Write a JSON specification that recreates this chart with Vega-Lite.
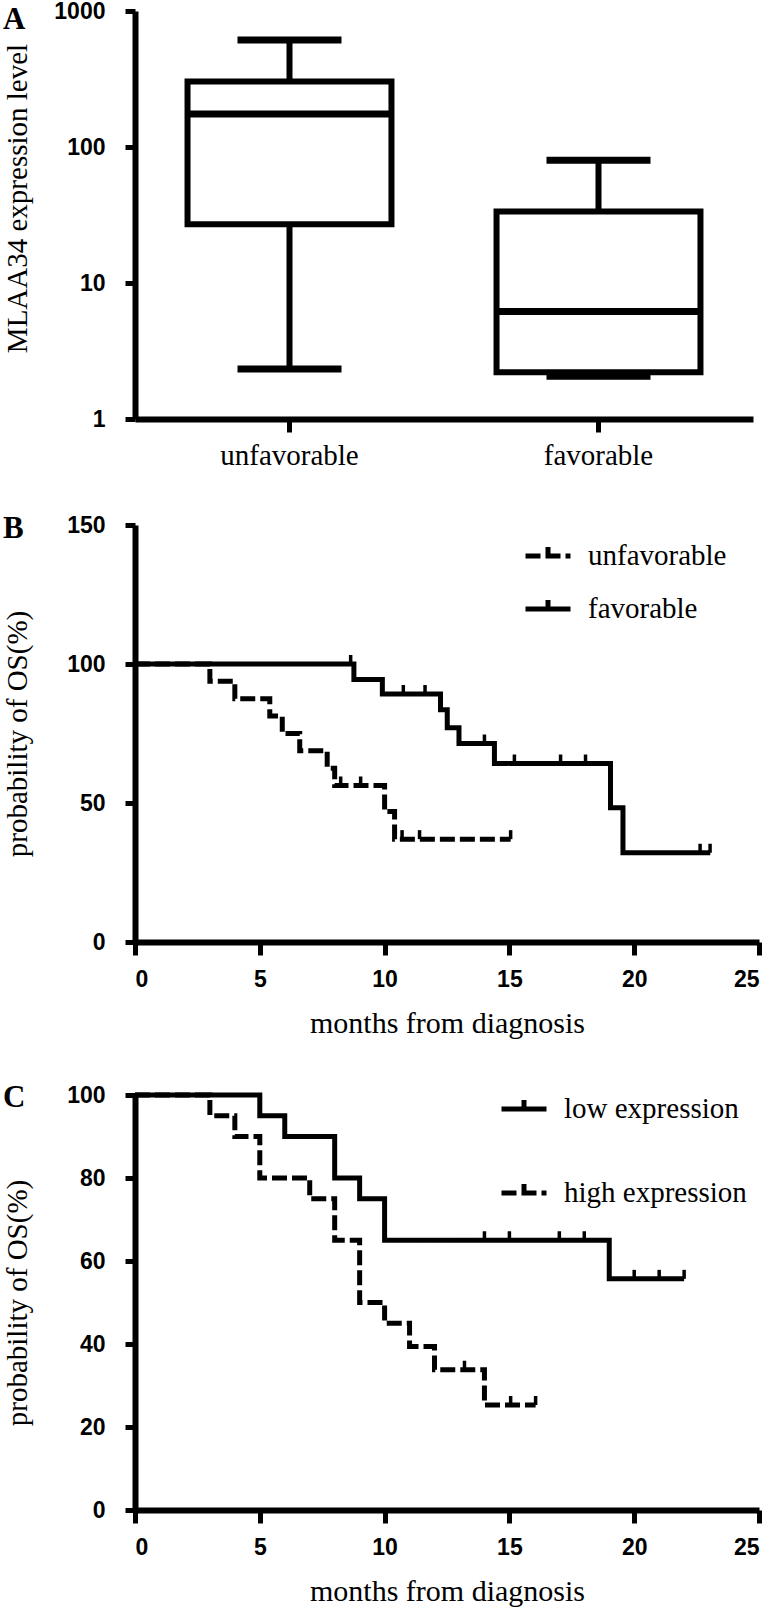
{
  "$schema": "https://vega.github.io/schema/vega-lite/v6.json",
  "background": "white",
  "padding": {"left": 2, "top": 0, "right": 0, "bottom": 0},
  "spacing": 43,
  "resolve": {"scale": {"strokeDash": "independent"}, "legend": {"strokeDash": "independent"}},
  "datasets": {
    "boxes": [
      {"group": "unfavorable", "min": 2.33, "q1": 27.0, "median": 175, "q3": 303, "max": 612},
      {"group": "favorable", "min": 2.06, "q1": 2.21, "median": 6.18, "q3": 33.6, "max": 80}
    ],
    "kmB": [
      {"group": "unfavorable", "month": 0, "surv": 100},
      {"group": "unfavorable", "month": 3.0, "surv": 93.8},
      {"group": "unfavorable", "month": 4.0, "surv": 87.5},
      {"group": "unfavorable", "month": 5.4, "surv": 81.3},
      {"group": "unfavorable", "month": 5.9, "surv": 75.0},
      {"group": "unfavorable", "month": 6.6, "surv": 68.8},
      {"group": "unfavorable", "month": 7.7, "surv": 62.5},
      {"group": "unfavorable", "month": 8.0, "surv": 56.3},
      {"group": "unfavorable", "month": 10.0, "surv": 46.9},
      {"group": "unfavorable", "month": 10.4, "surv": 37.0},
      {"group": "unfavorable", "month": 15.05, "surv": 37.0},
      {"group": "favorable", "month": 0, "surv": 100},
      {"group": "favorable", "month": 8.77, "surv": 94.4},
      {"group": "favorable", "month": 9.91, "surv": 89.2},
      {"group": "favorable", "month": 12.24, "surv": 83.5},
      {"group": "favorable", "month": 12.51, "surv": 77.1},
      {"group": "favorable", "month": 12.98, "surv": 71.4},
      {"group": "favorable", "month": 14.4, "surv": 64.2},
      {"group": "favorable", "month": 19.05, "surv": 48.3},
      {"group": "favorable", "month": 19.55, "surv": 32.1},
      {"group": "favorable", "month": 23.05, "surv": 32.1}
    ],
    "censB": [
      {"group": "unfavorable", "month": 8.24, "surv": 56.3},
      {"group": "unfavorable", "month": 9.04, "surv": 56.3},
      {"group": "unfavorable", "month": 10.7, "surv": 37.0},
      {"group": "unfavorable", "month": 11.4, "surv": 37.0},
      {"group": "unfavorable", "month": 15.05, "surv": 37.0},
      {"group": "favorable", "month": 8.64, "surv": 100},
      {"group": "favorable", "month": 10.75, "surv": 89.2},
      {"group": "favorable", "month": 11.62, "surv": 89.2},
      {"group": "favorable", "month": 14.0, "surv": 71.4},
      {"group": "favorable", "month": 15.2, "surv": 64.2},
      {"group": "favorable", "month": 17.05, "surv": 64.2},
      {"group": "favorable", "month": 18.05, "surv": 64.2},
      {"group": "favorable", "month": 22.64, "surv": 32.1},
      {"group": "favorable", "month": 23.04, "surv": 32.1}
    ],
    "kmC": [
      {"group": "low expression", "month": 0, "surv": 100},
      {"group": "low expression", "month": 5, "surv": 95},
      {"group": "low expression", "month": 6, "surv": 90},
      {"group": "low expression", "month": 8, "surv": 80},
      {"group": "low expression", "month": 9, "surv": 75},
      {"group": "low expression", "month": 10, "surv": 65},
      {"group": "low expression", "month": 19, "surv": 55.7},
      {"group": "low expression", "month": 22, "surv": 55.7},
      {"group": "high expression", "month": 0, "surv": 100},
      {"group": "high expression", "month": 3, "surv": 95},
      {"group": "high expression", "month": 4, "surv": 90},
      {"group": "high expression", "month": 5, "surv": 80},
      {"group": "high expression", "month": 7, "surv": 75},
      {"group": "high expression", "month": 8, "surv": 65},
      {"group": "high expression", "month": 9, "surv": 50},
      {"group": "high expression", "month": 10, "surv": 45},
      {"group": "high expression", "month": 11, "surv": 39.4},
      {"group": "high expression", "month": 12, "surv": 33.8},
      {"group": "high expression", "month": 14, "surv": 25.3},
      {"group": "high expression", "month": 16.05, "surv": 25.3}
    ],
    "censC": [
      {"group": "low expression", "month": 14, "surv": 65},
      {"group": "low expression", "month": 15, "surv": 65},
      {"group": "low expression", "month": 17, "surv": 65},
      {"group": "low expression", "month": 18, "surv": 65},
      {"group": "low expression", "month": 20, "surv": 55.7},
      {"group": "low expression", "month": 21, "surv": 55.7},
      {"group": "low expression", "month": 22, "surv": 55.7},
      {"group": "high expression", "month": 13.2, "surv": 33.8},
      {"group": "high expression", "month": 15.05, "surv": 25.3},
      {"group": "high expression", "month": 16.05, "surv": 25.3}
    ]
  },
  "vconcat": [
    {
      "width": 618,
      "height": 408,
      "title": {"text": "A", "anchor": "start", "frame": "bounds", "orient": "top", "baseline": "top", "offset": -36, "font": "Liberation Serif", "fontSize": 31, "fontWeight": "bold", "color": "black"},
      "data": {"name": "boxes"},
      "encoding": {
        "x": {"field": "group", "type": "nominal", "title": null,
              "scale": {"domain": ["unfavorable", "favorable"], "paddingInner": 0, "paddingOuter": 0},
              "axis": {"labelAngle": 0, "bandPosition": 0.5, "tickSize": 13, "labelPadding": 9,
                       "labelFont": "Liberation Serif", "labelFontWeight": "normal", "labelFontSize": 29}}
      },
      "layer": [
        {
          "mark": {"type": "rule", "strokeWidth": 6, "color": "black"},
          "encoding": {
            "y": {"field": "min", "type": "quantitative", "title": "MLAA34 expression level",
                  "scale": {"type": "log", "domain": [1, 1000], "nice": false},
                  "axis": {"values": [1, 10, 100, 1000], "format": "d", "titleY": 187}},
            "y2": {"field": "max"}
          }
        },
        {
          "mark": {"type": "bar", "fill": "white", "stroke": "black", "strokeWidth": 6, "opacity": 1, "width": {"band": 0.66}},
          "encoding": {
            "y": {"field": "q1", "type": "quantitative", "title": "MLAA34 expression level", "scale": {"type": "log", "domain": [1, 1000], "nice": false}},
            "y2": {"field": "q3"}
          }
        },
        {
          "mark": {"type": "tick", "orient": "horizontal", "size": 204, "thickness": 7, "color": "black", "opacity": 1},
          "encoding": {"y": {"field": "median", "type": "quantitative", "title": "MLAA34 expression level", "scale": {"type": "log", "domain": [1, 1000], "nice": false}}}
        },
        {
          "mark": {"type": "tick", "orient": "horizontal", "size": 104, "thickness": 7, "color": "black", "opacity": 1},
          "encoding": {"y": {"field": "min", "type": "quantitative", "title": "MLAA34 expression level", "scale": {"type": "log", "domain": [1, 1000], "nice": false}}}
        },
        {
          "mark": {"type": "tick", "orient": "horizontal", "size": 104, "thickness": 7, "color": "black", "opacity": 1},
          "encoding": {"y": {"field": "max", "type": "quantitative", "title": "MLAA34 expression level", "scale": {"type": "log", "domain": [1, 1000], "nice": false}}}
        }
      ]
    },
    {
      "width": 624,
      "height": 417,
      "title": {"text": "B", "anchor": "start", "frame": "bounds", "orient": "top", "baseline": "top", "offset": -31, "font": "Liberation Serif", "fontSize": 31, "fontWeight": "bold", "color": "black"},
      "encoding": {
        "x": {"field": "month", "type": "quantitative", "title": "months from diagnosis",
              "scale": {"domain": [0, 25], "nice": false},
              "axis": {"values": [0, 5, 10, 15, 20, 25], "tickSize": 13, "labelPadding": 13.5, "titlePadding": 17}},
        "y": {"field": "surv", "type": "quantitative", "title": "probability of OS(%)",
              "scale": {"domain": [0, 150], "nice": false},
              "axis": {"values": [0, 50, 100, 150]}}
      },
      "layer": [
        {
          "data": {"name": "kmB"},
          "mark": {"type": "line", "interpolate": "step-after", "strokeWidth": 5, "color": "black", "strokeCap": "butt"},
          "encoding": {
            "strokeDash": {"field": "group", "type": "nominal",
                           "scale": {"domain": ["unfavorable", "favorable"], "range": [[15, 5], [1, 0]]},
                           "legend": {"orient": "none", "legendX": 388, "legendY": 6, "title": null, "rowPadding": 13,
                                      "symbolType": "M-1,0H1M0,0V-0.4", "symbolSize": 2025, "symbolStrokeWidth": 5,
                                      "symbolStrokeColor": "black", "labelOffset": 15, "padding": 0,
                                      "labelFont": "Liberation Serif", "labelFontSize": 29, "labelColor": "black", "labelLimit": 400}}
          }
        },
        {
          "data": {"name": "censB"},
          "mark": {"type": "tick", "orient": "vertical", "size": 9, "thickness": 3.5, "yOffset": -4.5, "color": "black", "opacity": 1}
        }
      ]
    },
    {
      "width": 624,
      "height": 415,
      "title": {"text": "C", "anchor": "start", "frame": "bounds", "orient": "top", "baseline": "top", "offset": -30, "font": "Liberation Serif", "fontSize": 31, "fontWeight": "bold", "color": "black"},
      "encoding": {
        "x": {"field": "month", "type": "quantitative", "title": "months from diagnosis",
              "scale": {"domain": [0, 25], "nice": false},
              "axis": {"values": [0, 5, 10, 15, 20, 25], "tickSize": 13, "labelPadding": 13.5, "titlePadding": 17}},
        "y": {"field": "surv", "type": "quantitative", "title": "probability of OS(%)",
              "scale": {"domain": [0, 100], "nice": false},
              "axis": {"values": [0, 20, 40, 60, 80, 100]}}
      },
      "layer": [
        {
          "data": {"name": "kmC"},
          "mark": {"type": "line", "interpolate": "step-after", "strokeWidth": 5, "color": "black", "strokeCap": "butt"},
          "encoding": {
            "strokeDash": {"field": "group", "type": "nominal",
                           "scale": {"domain": ["low expression", "high expression"], "range": [[1, 0], [15, 5]]},
                           "legend": {"orient": "none", "legendX": 364, "legendY": -11, "title": null, "rowPadding": 44,
                                      "symbolType": "M-1,0H1M0,0V-0.4", "symbolSize": 2025, "symbolStrokeWidth": 5,
                                      "symbolStrokeColor": "black", "labelOffset": 15, "padding": 0,
                                      "labelFont": "Liberation Serif", "labelFontSize": 29, "labelColor": "black", "labelLimit": 400}}
          }
        },
        {
          "data": {"name": "censC"},
          "mark": {"type": "tick", "orient": "vertical", "size": 9, "thickness": 3.5, "yOffset": -4.5, "color": "black", "opacity": 1}
        }
      ]
    }
  ],
  "config": {
    "view": {"stroke": null},
    "axis": {
      "grid": false,
      "domainColor": "black", "domainWidth": 6,
      "tickColor": "black", "tickWidth": 5,
      "labelFont": "Liberation Sans, Arial, sans-serif",
      "labelFontWeight": "bold", "labelFontSize": 23, "labelColor": "black",
      "titleFont": "Liberation Serif", "titleFontWeight": "normal", "titleFontSize": 29, "titleColor": "black"
    },
    "axisY": {"tickSize": 10, "labelPadding": 20, "titleX": -103, "titleBaseline": "bottom", "titleAngle": -90},
    "axisX": {"titleFontSize": 30}
  }
}
